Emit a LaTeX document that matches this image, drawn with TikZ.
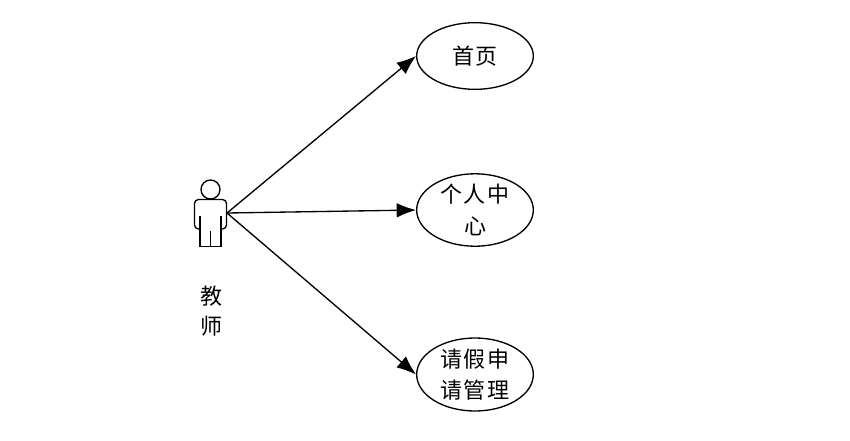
\documentclass[tikz,border=0pt]{standalone}
\usepackage{fontspec}
\usepackage{tikz}
\usetikzlibrary{arrows.meta,shapes.geometric}
\newfontfamily\cjk[LetterSpace=9]{Noto Sans CJK SC}

\begin{document}
\begin{tikzpicture}[
  x=0.75pt, y=-0.75pt,
  usecase/.style={draw, ellipse, line width=1pt, inner sep=0pt, minimum width=87.5pt, align=center, font=\cjk\fontsize{16.5pt}{23.5pt}\selectfont},
  arrow/.style={-{Latex[length=14.5pt, width=11pt]}, line width=1pt},
  figure/.style={line width=1pt}
]
\useasboundingbox (0,0) rectangle (850,440);
\node[usecase, minimum height=50pt] (home) at (475,56) {首页};
\node[usecase, minimum height=45pt] (profile) at (475,210) {个人中\\心};
\node[usecase, minimum height=45pt] (leave) at (475,374.5) {请假申\\请管理};
\coordinate (actor) at (227,213);
\node[align=center, font=\cjk\fontsize{16.5pt}{22.5pt}\selectfont] (teacher) at (211,311) {教\\师};

\draw[figure] (210.5,189.5) circle (9.5);
\draw[figure, rounded corners=3pt] (200,229) -- (194.5,229) -- (194.5,199.5) -- (226.5,199.5) -- (226.5,229) -- (221,229);
\draw[figure] (200,216) -- (200,246.5) -- (221,246.5) -- (221,216);
\draw[figure] (210.5,231) -- (210.5,246.5);

\draw[arrow] (actor) -- (home.west);
\draw[arrow] (actor) -- (profile.west);
\draw[arrow] (actor) -- (leave.west);
\end{tikzpicture}
\end{document}
